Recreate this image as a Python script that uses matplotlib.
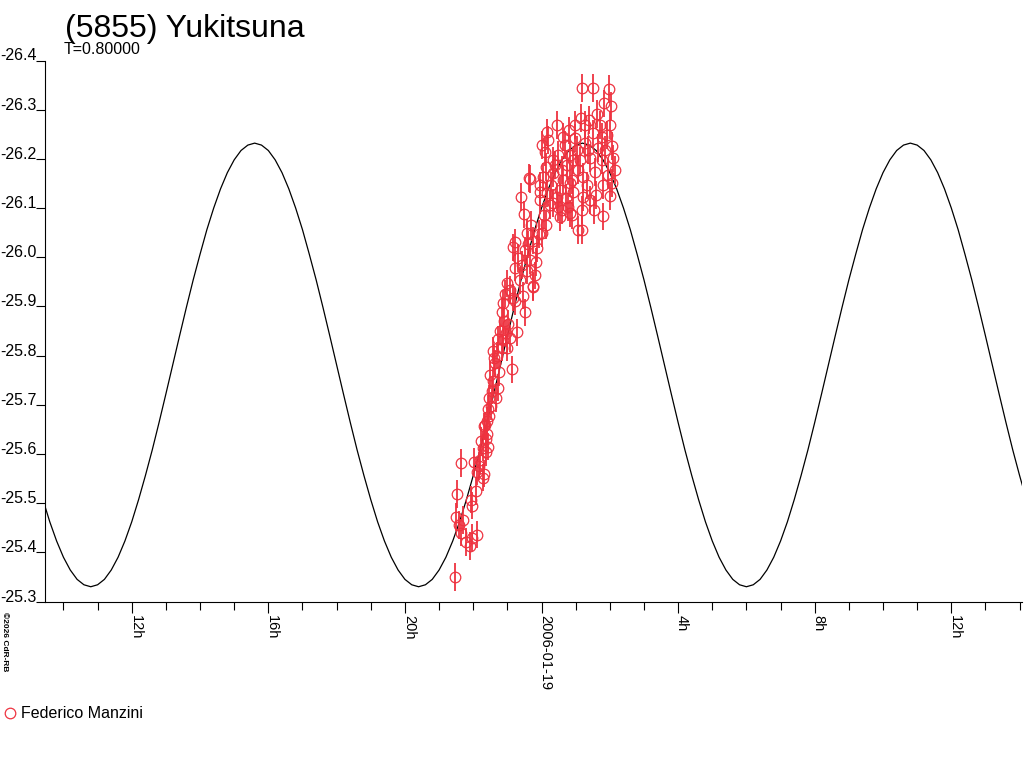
import numpy as np
import matplotlib
matplotlib.use('Agg')
import matplotlib.pyplot as plt

plt.rcParams['font.family'] = ['Liberation Sans', 'DejaVu Sans']
plt.rcParams['axes.unicode_minus'] = False

# hours relative to 2006-01-19 0h UT
t_obs = [
    -2.533, -2.357, -1.977, -2.474, -2.504, -2.299, -2.416, -2.357, -2.211, -2.035,
    -1.889, -2.094, -1.684, -1.596, -1.713, -1.567, -1.625, -1.889, -1.684, -1.713,
    -1.918, -2.064, -2.035, -1.801, -1.655, -1.567, -1.537, -1.772, -1.830,
    -1.069, -0.776, -0.542, -0.249, -0.483, -1.157, -0.981, -0.717, -1.274, -0.922,
    -1.420, -1.157, -1.010, -0.864, -1.362, -1.508, -1.274, -1.420, -1.332, -1.537,
    -1.450, -1.215, -1.098, -1.391, -1.245, -1.596, -1.479, -1.303, -1.040, -1.625,
    -1.127,
    -0.366, -0.600, -0.512, -0.425, -0.073, -0.776, -0.835, -0.249, -0.132, -0.483,
    -0.337, -0.776, -0.425, -0.190, -0.249, -1.010, -0.835, -1.127, -0.630, -0.688,
    -0.307, -0.161, -0.922, -0.395, -0.571,
    1.186, 1.508, 1.977, 2.035, 1.625, 1.391, 1.157, 0.805, 0.161, 0.630,
    0.981, 1.274, 1.508, 1.772, 2.006, 2.064, 2.094, 1.918, 0.102, 0.337,
    0.835, 1.127, 1.420, 1.772, 0.044, 0.337, 0.630, 0.893, 1.215, 1.567,
    1.801, 2.064, 0.161, 0.454, 0.922, 1.215, 2.006, 0.249, 0.483, 0.776,
    1.186, 1.801, 0.542, 0.893, 1.186, 0.015, -0.337, -0.044, -0.044, 0.132,
    0.395, 0.542, 0.835, 0.337, 0.600, 0.835, 1.069, 0.015, 0.190, 0.688,
    1.040, 1.362, 1.655, 1.859, 2.152, 1.069, 1.332, 1.596, 0.747, 0.483,
    0.073, -0.044, 0.278, 1.713, 0.981, 0.454, 1.420, 0.717, 1.947, 1.537,
    1.274, 0.922, 0.600, 1.830, 0.132,
]
mag_obs = [
    -25.350, -25.582, -25.584, -25.519, -25.472, -25.466, -25.456, -25.440, -25.421, -25.430,
    -25.436, -25.413, -25.656, -25.641, -25.613, -25.615, -25.603, -25.564, -25.560, -25.552,
    -25.525, -25.507, -25.495, -25.588, -25.658, -25.692, -25.678, -25.627, -25.576,
    -25.926, -25.910, -25.922, -25.939, -25.888, -25.888, -25.865, -25.847, -25.833, -25.835,
    -25.810, -25.816, -25.816, -25.772, -25.784, -25.760, -25.735, -25.749, -25.713, -25.713,
    -25.729, -25.851, -25.871, -25.796, -25.766, -25.668, -25.698, -25.800, -25.845, -25.631,
    -25.831,
    -26.161, -26.122, -26.087, -26.049, -26.047, -26.030, -26.020, -26.034, -26.018, -26.014,
    -25.994, -25.979, -25.973, -25.963, -25.941, -25.947, -25.918, -25.906, -25.953, -25.998,
    -26.065, -25.990, -25.933, -26.026, -25.984,
    -26.344, -26.344, -26.342, -26.307, -26.291, -26.279, -26.283, -26.258, -26.254, -26.244,
    -26.242, -26.232, -26.252, -26.244, -26.269, -26.226, -26.201, -26.248, -26.214, -26.197,
    -26.208, -26.197, -26.201, -26.197, -26.163, -26.171, -26.157, -26.157, -26.163, -26.173,
    -26.146, -26.151, -26.130, -26.122, -26.132, -26.122, -26.124, -26.106, -26.102, -26.102,
    -26.096, -26.083, -26.081, -26.085, -26.055, -26.049, -26.159, -26.132, -26.116, -26.183,
    -26.187, -26.136, -26.151, -26.110, -26.096, -26.089, -26.055, -26.228, -26.238, -26.228,
    -26.218, -26.218, -26.222, -26.218, -26.177, -26.177, -26.146, -26.126, -26.187, -26.208,
    -26.085, -26.146, -26.146, -26.269, -26.269, -26.269, -26.116, -26.120, -26.167, -26.096,
    -26.269, -26.197, -26.177, -26.313, -26.065,
]
mag_err = 0.028

# fitted lightcurve, every 0.2 h
t_fit = [
    -14.8, -14.6, -14.4, -14.2, -14.0, -13.8, -13.6, -13.4, -13.2, -13.0,
    -12.8, -12.6, -12.4, -12.2, -12.0, -11.8, -11.6, -11.4, -11.2, -11.0,
    -10.8, -10.6, -10.4, -10.2, -10.0, -9.8, -9.6, -9.4, -9.2, -9.0,
    -8.8, -8.6, -8.4, -8.2, -8.0, -7.8, -7.6, -7.4, -7.2, -7.0,
    -6.8, -6.6, -6.4, -6.2, -6.0, -5.8, -5.6, -5.4, -5.2, -5.0,
    -4.8, -4.6, -4.4, -4.2, -4.0, -3.8, -3.6, -3.4, -3.2, -3.0,
    -2.8, -2.6, -2.4, -2.2, -2.0, -1.8, -1.6, -1.4, -1.2, -1.0,
    -0.8, -0.6, -0.4, -0.2, 0.0, 0.2, 0.4, 0.6, 0.8, 1.0,
    1.2, 1.4, 1.6, 1.8, 2.0, 2.2, 2.4, 2.6, 2.8, 3.0,
    3.2, 3.4, 3.6, 3.8, 4.0, 4.2, 4.4, 4.6, 4.8, 5.0,
    5.2, 5.4, 5.6, 5.8, 6.0, 6.2, 6.4, 6.6, 6.8, 7.0,
    7.2, 7.4, 7.6, 7.8, 8.0, 8.2, 8.4, 8.6, 8.8, 9.0,
    9.2, 9.4, 9.6, 9.8, 10.0, 10.2, 10.4, 10.6, 10.8, 11.0,
    11.2, 11.4, 11.6, 11.8, 12.0, 12.2, 12.4, 12.6, 12.8, 13.0,
    13.2, 13.4, 13.6, 13.8, 14.0, 14.2, 14.4,
]
mag_fit = [
    -25.556, -25.507, -25.462, -25.423, -25.390, -25.364, -25.345, -25.334, -25.330, -25.334,
    -25.345, -25.364, -25.390, -25.423, -25.462, -25.507, -25.556, -25.608, -25.664, -25.722,
    -25.781, -25.840, -25.898, -25.954, -26.006, -26.056, -26.100, -26.139, -26.172, -26.198,
    -26.217, -26.228, -26.232, -26.228, -26.217, -26.198, -26.172, -26.139, -26.100, -26.056,
    -26.006, -25.954, -25.898, -25.840, -25.781, -25.722, -25.664, -25.608,
    -25.556, -25.507, -25.462, -25.423, -25.390, -25.364, -25.345, -25.334, -25.330, -25.334,
    -25.345, -25.364, -25.390, -25.423, -25.462, -25.507, -25.556, -25.608, -25.664, -25.722,
    -25.781, -25.840, -25.898, -25.954, -26.006, -26.056, -26.100, -26.139, -26.172, -26.198,
    -26.217, -26.228, -26.232, -26.228, -26.217, -26.198, -26.172, -26.139, -26.100, -26.056,
    -26.006, -25.954, -25.898, -25.840, -25.781, -25.722, -25.664, -25.608,
    -25.556, -25.507, -25.462, -25.423, -25.390, -25.364, -25.345, -25.334, -25.330, -25.334,
    -25.345, -25.364, -25.390, -25.423, -25.462, -25.507, -25.556, -25.608, -25.664, -25.722,
    -25.781, -25.840, -25.898, -25.954, -26.006, -26.056, -26.100, -26.139, -26.172, -26.198,
    -26.217, -26.228, -26.232, -26.228, -26.217, -26.198, -26.172, -26.139, -26.100, -26.056,
    -26.006, -25.954, -25.898, -25.840, -25.781, -25.722, -25.664, -25.608,
    -25.556, -25.507, -25.462,
]

x_major = [-12, -8, -4, 0, 4, 8, 12]
x_labels = ['12h', '16h', '20h', '2006-01-19', '4h', '8h', '12h']
x_minor = [-14, -13, -11, -10, -9, -7, -6, -5, -3, -2, -1, 1, 2, 3, 5, 6, 7, 9, 10, 11, 13, 14]
y_ticks = [-26.4, -26.3, -26.2, -26.1, -26.0, -25.9, -25.8, -25.7, -25.6, -25.5, -25.4, -25.3]

red = '#EE3340'

fig = plt.figure(figsize=(10.24, 7.68), dpi=100)
ax = fig.add_axes([45 / 1024, 1 - 601.5 / 768, 977 / 1024, 541 / 768])

ax.plot(t_fit, mag_fit, color='black', lw=0.9, zorder=2)
ax.errorbar(t_obs, mag_obs, yerr=mag_err, fmt='o', ms=7.6, mfc='none', mec=red,
            mew=0.9, ecolor=red, elinewidth=1.3, capsize=0, zorder=3)

ax.set_xlim(-14.54, 14.07)
ax.set_ylim(-25.3, -26.4)

for s in ['top', 'right']:
    ax.spines[s].set_visible(False)
for s in ['left', 'bottom']:
    ax.spines[s].set_linewidth(0.8)

ax.set_xticks(x_major)
ax.set_xticklabels(x_labels)
ax.set_xticks(x_minor, minor=True)
ax.tick_params(axis='x', which='major', length=8, width=0.8, pad=1.5, labelsize=10.5)
ax.tick_params(axis='x', which='minor', length=6, width=0.8)
for lab in ax.get_xticklabels():
    lab.set_rotation(-90)
    lab.set_rotation_mode('anchor')
    lab.set_ha('left')
    lab.set_va('baseline')

ax.set_yticks(y_ticks)
ax.set_yticklabels(['%.1f' % v for v in y_ticks])
ax.tick_params(axis='y', length=6.2, width=0.8, pad=0, labelsize=11.5)
for lab in ax.get_yticklabels():
    lab.set_va('baseline')

fig.text(65 / 1024, 1 - 37 / 768, '(5855) Yukitsuna', fontsize=23, va='baseline')
fig.text(64 / 1024, 1 - 54 / 768, 'T=0.80000', fontsize=11.5, va='baseline')

ax.plot([10 / 1024], [1 - 713 / 768], 'o', ms=7.6, mfc='none', mec=red, mew=0.9,
        transform=fig.transFigure, clip_on=False)
fig.text(21 / 1024, 1 - 717.5 / 768, 'Federico Manzini', fontsize=11.5, va='baseline')

fig.text(1 / 1024, 1 - 612 / 768, '©2026 CdR-RB', fontsize=6, fontweight='bold',
         rotation=-90, ha='left', va='top')

fig.savefig('out.png', dpi=100)
